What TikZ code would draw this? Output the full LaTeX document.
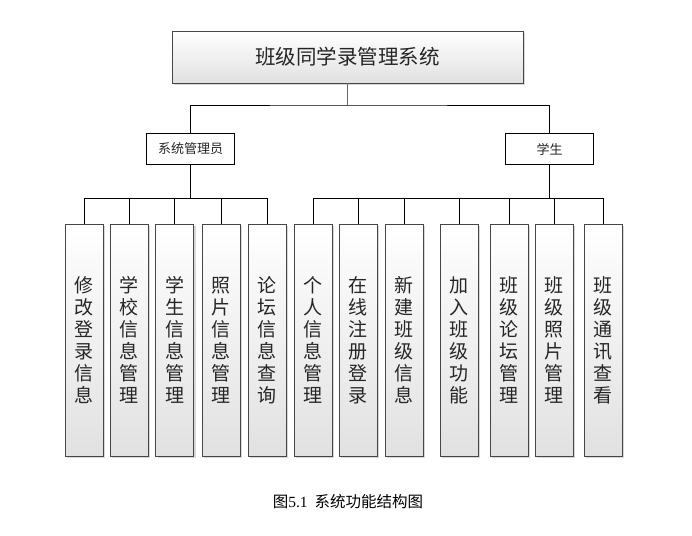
\documentclass[tikz,border=0pt]{standalone}
\usepackage{fontspec}
\setmainfont{Liberation Serif}
\newfontfamily\cjk{Noto Sans CJK SC}
\usetikzlibrary{shadows}
\definecolor{boxedge}{RGB}{70,70,70}
\definecolor{boxfill}{RGB}{225,225,225}

\begin{document}
\begin{tikzpicture}[x=1pt,y=-1pt,
    grad/.style={draw=boxedge, top color=white, bottom color=boxfill,
      drop shadow={shadow xshift=2pt, shadow yshift=-2pt, fill=black!30}},
    leaf/.style={grad, minimum width=38pt, minimum height=232pt, inner sep=0pt,
      text width=24pt, align=center, text=black!85, font=\cjk\fontsize{19}{22}\selectfont},
    role/.style={draw=black, fill=white, minimum width=88pt, minimum height=31pt,
      text=black!85, font=\cjk\fontsize{13}{15}\selectfont},
    link/.style={black, line width=0.8pt}]
            \useasboundingbox (0,0) rectangle (692,535);

            % Top box
            \node[grad, minimum width=351pt, minimum height=52pt, text=black!85,
                font=\cjk\fontsize{20.5}{22}\selectfont]
                (title) at (347.5,57) {班级同学录管理系统};

            % Roles
            \node[role] (admin) at (190.5,149) {系统管理员};
            \node[role] (stu) at (549.5,149) {学生};

            % Admin functions
            \node[leaf] (m1) at (84,340) {修\\改\\登\\录\\信\\息};
            \node[leaf] (m2) at (129,340) {学\\校\\信\\息\\管\\理};
            \node[leaf] (m3) at (174.5,340) {学\\生\\信\\息\\管\\理};
            \node[leaf] (m4) at (221,340) {照\\片\\信\\息\\管\\理};
            \node[leaf] (m5) at (267,340) {论\\坛\\信\\息\\查\\询};

            % Student functions
            \node[leaf] (s1) at (313,340) {个\\人\\信\\息\\管\\理};
            \node[leaf] (s2) at (358,340) {在\\线\\注\\册\\登\\录};
            \node[leaf] (s3) at (404,340) {新\\建\\班\\级\\信\\息};
            \node[leaf] (s4) at (459,340) {加\\入\\班\\级\\功\\能};
            \node[leaf] (s5) at (509,340) {班\\级\\论\\坛\\管\\理};
            \node[leaf] (s6) at (554,340) {班\\级\\照\\片\\管\\理};
            \node[leaf] (s7) at (603,340) {班\\级\\通\\讯\\查\\看};

            % Connectors
            \coordinate (hub) at (347.5,105);
            \coordinate (hubA) at (190.5,198);
            \coordinate (hubS) at (549.5,198);
            \draw[link, draw=black!60] (title) -- (hub);
            \draw[link] (admin.north) |- (hub) -| (stu.north);
            \draw[link] (admin) -- (hubA);
            \draw[link] (stu) -- (hubS);
            \draw[link] (hubA) -| (m1.north);
            \draw[link] (hubA) -| (m2.north);
            \draw[link] (hubA) -| (m3.north);
            \draw[link] (hubA) -| (m4.north);
            \draw[link] (hubA) -| (m5.north);
            \draw[link] (hubS) -| (s1.north);
            \draw[link] (hubS) -| (s2.north);
            \draw[link] (hubS) -| (s3.north);
            \draw[link] (hubS) -| (s4.north);
            \draw[link] (hubS) -| (s5.north);
            \draw[link] (hubS) -| (s6.north);
            \draw[link] (hubS) -| (s7.north);

            % Caption
            \node[font=\cjk\fontsize{15.5}{17}\selectfont] (cap) at (348,502)
                {图{\rmfamily 5.1}\ \ 系统功能结构图};
\end{tikzpicture}
\end{document}
